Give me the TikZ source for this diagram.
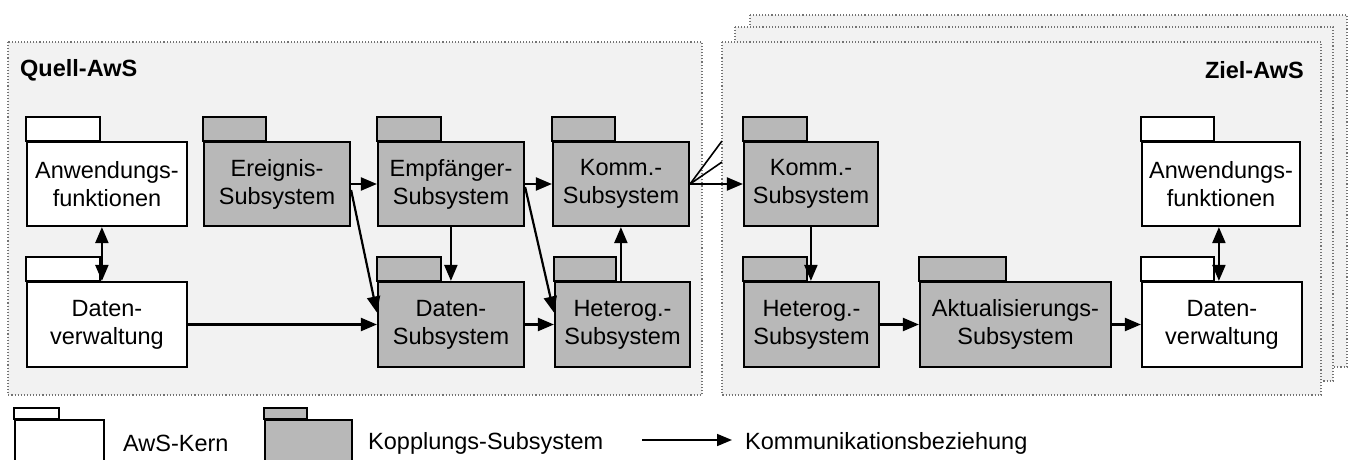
\documentclass[tikz,border=0pt]{standalone}
\usepackage{fontspec}
\setmainfont{Liberation Sans}
\usetikzlibrary{arrows.meta}

% package symbol: tab on top, body as a named node
% #1 style, #2 name, #3 x1, #4 y1, #5 x2, #6 y2, #7 tab width, #8 text
\newcommand{\tabheight}{24}
\newcommand{\pkgbox}[8]{%
  \node[#1, minimum width={(#5-#3)*1pt}, minimum height={(#6-#4)*1pt}]
    (#2) at ({(#3+#5)/2},{(#4+#6)/2}) {#8};
  \draw[#1] (#2.north west) rectangle ++(#7,-\tabheight);
}

\begin{document}
\begin{tikzpicture}[x=1pt,y=-1pt,
  txt/.style={font=\fontsize{23.5}{28}\selectfont},
  kern/.style={txt, draw=black, line width=2.2pt, fill=white, align=center, inner sep=0pt},
  kopp/.style={kern, fill=black!28},
  frame/.style={draw=black!55, dotted, line width=1.1pt, fill=black!5},
  tip/.style={Triangle[length=16pt,width=13pt]},
  arr/.style={line width=2.2pt, -{Triangle[length=16pt,width=13pt]}},
  dbl/.style={line width=2.2pt, {Triangle[length=16pt,width=13pt]}-{Triangle[length=16pt,width=13pt]}},
  fan/.style={line width=1.6pt},
  title/.style={font=\fontsize{23.5}{28}\selectfont\bfseries, inner sep=0pt}
]
\clip (0,0) rectangle (1349,460);
\fill[white] (0,0) rectangle (1349,460);

% system frames
\draw[frame] (8,42) rectangle (702,395);
\draw[frame] (750,15) rectangle (1347,367);
\draw[frame] (735,27) rectangle (1333,381);
\draw[frame] (722,42) rectangle (1321,395);

\node[title, anchor=west] (quell) at (20,70) {Quell-AwS};
\node[title, anchor=east] (ziel) at (1304,70) {Ziel-AwS};

% source system
\pkgbox{kern}{af1}{27}{142}{187}{226}{74}{Anwendungs-\\funktionen}
\pkgbox{kopp}{er}{204}{142}{350}{226}{63}{Ereignis-\\Subsystem}
\pkgbox{kopp}{em}{378}{142}{524}{226}{64}{Empfänger-\\Subsystem}
\pkgbox{kopp}{ko1}{553}{142}{689}{226}{63}{Komm.-\\Subsystem}
\pkgbox{kern}{dv1}{27}{282}{187}{367}{74}{Daten-\\verwaltung}
\pkgbox{kopp}{ds}{378}{282}{524}{367}{64}{Daten-\\Subsystem}
\pkgbox{kopp}{he1}{555}{282}{690}{367}{62}{Heterog.-\\Subsystem}

% target system
\pkgbox{kopp}{ko2}{744}{142}{878}{226}{64}{Komm.-\\Subsystem}
\pkgbox{kern}{af2}{1142}{142}{1300}{226}{73}{Anwendungs-\\funktionen}
\pkgbox{kopp}{he2}{744}{282}{879}{367}{64}{Heterog.-\\Subsystem}
\pkgbox{kopp}{ak}{920}{282}{1111}{367}{87}{Aktualisierungs-\\Subsystem}
\pkgbox{kern}{dv2}{1142}{282}{1302}{367}{73}{Daten-\\verwaltung}

% communication relations
\draw[dbl] ([xshift=76pt]af1.south west) -- ([xshift=76pt]dv1.north west);
\draw[arr] (er.east) -- (em.west);
\draw[arr] (em.east) -- (ko1.west);
\draw[arr] (ko1.east) -- (ko2.west);
\draw[arr] ([yshift=-6pt]er.east) -- ([yshift=12pt]ds.west);
\draw[arr] (dv1.east) -- (ds.west);
\draw[arr] ([xshift=74pt]em.south west) -- ([xshift=74pt]ds.north west);
\draw[arr] ([yshift=-3pt]em.east) -- ([yshift=12pt]he1.west);
\draw[arr] (ds.east) -- (he1.west);
\draw[arr] ([xshift=67pt]he1.north west) -- ([xshift=69pt]ko1.south west);
\draw[arr] ([xshift=68pt]ko2.south west) -- ([xshift=68pt]he2.north west);
\draw[arr] (he2.east) -- (ak.west);
\draw[arr] (ak.east) -- (dv2.west);
\draw[dbl] ([xshift=78pt]af2.south west) -- ([xshift=78pt]dv2.north west);

% fan-out towards the stacked target systems
\coordinate (fanA) at (722,141);
\coordinate (fanB) at (722,162);
\draw[fan] (ko1.east) -- (fanA);
\draw[fan] (ko1.east) -- (fanB);

% legend
\renewcommand{\tabheight}{11}
\pkgbox{kern}{lk}{15}{420}{104}{472}{45}{}
\node[txt, anchor=west, inner sep=0pt] (lktext) at (123,443) {AwS-Kern};
\pkgbox{kopp}{lc}{265}{420}{352}{472}{43}{}
\node[txt, anchor=west, inner sep=0pt] (lctext) at (368,443) {Kopplungs-Subsystem};
\coordinate (la) at (642,440);
\coordinate (lb) at (732,440);
\draw[line width=1.6pt, -{Triangle[length=15pt,width=12pt]}] (la) -- (lb);
\node[txt, anchor=west, inner sep=0pt] (latext) at (745,443) {Kommunikationsbeziehung};
\end{tikzpicture}
\end{document}
